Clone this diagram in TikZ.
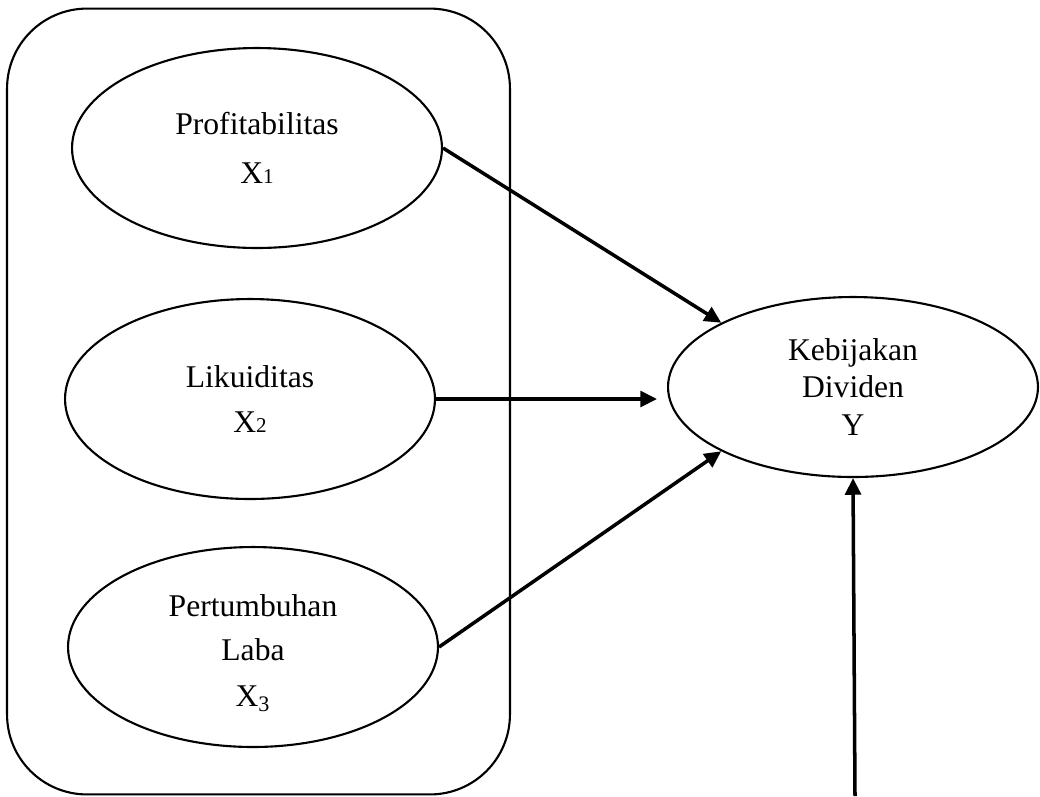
\documentclass[tikz,border=0pt]{standalone}
\usepackage{fontspec}
\setmainfont{Liberation Serif}
\usetikzlibrary{shapes.geometric,arrows.meta}
\begin{document}
\begin{tikzpicture}[x=0.02cm,y=-0.02cm,
  var/.style={draw,ellipse,line width=1.2pt,minimum width=7.4cm,minimum height=4cm,inner sep=0pt,align=center,font=\fontsize{18}{21.5}\selectfont},
  conn/.style={line width=2pt,-{Triangle[length=9.5pt,width=9pt]}},
  frame/.style={draw,line width=1.2pt,rounded corners=1.6cm}]
\useasboundingbox (0,0) rectangle (1040,796);
\node[frame,minimum width=10.06cm,minimum height=15.72cm,inner sep=0pt] (box) at (258.5,401.5) {};
\node[var] (p) at (257,148) {Profitabilitas\\[6.3pt]X{\fontsize{12}{12}\selectfont 1}};
\node[var] (l) at (250,399) {Likuiditas\\[4pt]X{\fontsize{12}{12}\selectfont 2}};
\node[var] (g) at (253,647) {\rule{0pt}{19.5pt}Pertumbuhan\\[3pt]Laba\\[5pt]X\textsubscript{3}};
\node[var,minimum height=3.6cm] (k) at (853,387) {Kebijakan\\Dividen\\Y};
\coordinate (b) at (855,796);
\draw[conn] (p.east) -- (k.154.7);
\draw[conn,shorten >=0.2cm] (l.east) -- (l.east -| k.west);
\draw[conn] (g.east) -- (k.206.4);
\draw[conn] (b) -- (k.south);
\end{tikzpicture}
\end{document}
